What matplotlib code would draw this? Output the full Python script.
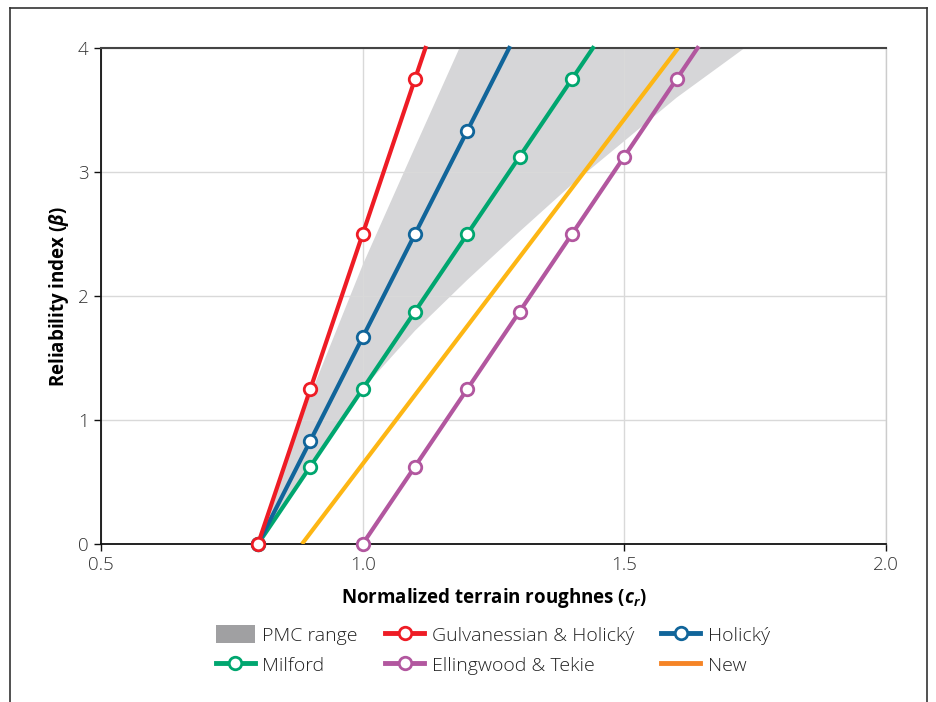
import matplotlib
matplotlib.use("Agg")
import matplotlib.pyplot as plt
from matplotlib.lines import Line2D
from matplotlib.patches import Patch

plt.rcParams['font.family'] = ['Open Sans', 'DejaVu Sans']
plt.rcParams['mathtext.fontset'] = 'custom'
plt.rcParams['mathtext.it'] = 'Open Sans:bold:italic'
plt.rcParams['mathtext.rm'] = 'Open Sans:bold'

# ---- data ----
pmc_upper_x = [0.8, 0.9, 1.0, 1.1, 1.185]
pmc_upper_y = [0.0, 1.2, 2.25, 3.2, 4.0]
pmc_lower_x = [0.8, 0.9, 1.0, 1.1, 1.2, 1.3, 1.4, 1.5, 1.6, 1.73]
pmc_lower_y = [0.0, 0.62, 1.25, 1.72, 2.13, 2.52, 2.9, 3.25, 3.6, 4.0]

gh_x = [0.8, 0.9, 1.0, 1.1, 1.12]
gh_y = [0.0, 1.25, 2.5, 3.75, 4.0]
hol_x = [0.8, 0.9, 1.0, 1.1, 1.2, 1.28]
hol_y = [0.0, 0.833, 1.667, 2.5, 3.333, 4.0]
mil_x = [0.8, 0.9, 1.0, 1.1, 1.2, 1.3, 1.4, 1.44]
mil_y = [0.0, 0.625, 1.25, 1.875, 2.5, 3.125, 3.75, 4.0]
et_x = [1.0, 1.1, 1.2, 1.3, 1.4, 1.5, 1.6, 1.64]
et_y = [0.0, 0.625, 1.25, 1.875, 2.5, 3.125, 3.75, 4.0]
new_x = [0.884, 1.603]
new_y = [0.0, 4.0]

xticks = [0.5, 1.0, 1.5, 2.0]
xticklabels = ['0.5', '1.0', '1.5', '2.0']
yticks = [0, 1, 2, 3, 4]

c_red = '#EE1C25'
c_blue = '#11659A'
c_green = '#00A66F'
c_purple = '#B2579F'
c_yellow = '#FDB614'
c_orange = '#F58426'
c_gray = '#D6D6D8'

fig = plt.figure(figsize=(9.36, 7.02), dpi=100)
ax = fig.add_axes([101/936, 1-544/702, (886-101)/936, (544-48)/702])

# shaded range
poly_x = pmc_upper_x + pmc_lower_x[::-1]
poly_y = pmc_upper_y + pmc_lower_y[::-1]
ax.fill(poly_x, poly_y, color=c_gray, lw=0, zorder=0.3)

lw = 3.0
mk = dict(marker='o', markersize=9, markerfacecolor='white', markeredgewidth=2.0)
ax.plot(new_x, new_y, color=c_yellow, lw=lw, solid_capstyle='butt', zorder=3)
ax.plot(et_x, et_y, color=c_purple, lw=lw, markeredgecolor=c_purple,
        markevery=list(range(len(et_x) - 1)), clip_on=False, zorder=4, **mk)
ax.plot(mil_x, mil_y, color=c_green, lw=lw, markeredgecolor=c_green,
        markevery=list(range(len(mil_x) - 1)), clip_on=False, zorder=4, **mk)
ax.plot(hol_x, hol_y, color=c_blue, lw=lw, markeredgecolor=c_blue,
        markevery=list(range(len(hol_x) - 1)), clip_on=False, zorder=5, **mk)
ax.plot(gh_x, gh_y, color=c_red, lw=lw, markeredgecolor=c_red,
        markevery=list(range(len(gh_x) - 1)), clip_on=False, zorder=6, **mk)

ax.set_xlim(0.5, 2.0)
ax.set_ylim(0, 4)
ax.set_xticks(xticks)
ax.set_xticklabels(xticklabels)
ax.set_yticks(yticks)
ax.grid(True, color='#D9D9D9', lw=1.0, zorder=0.5)
ax.set_axisbelow(True)

for s in ['left', 'bottom']:
    ax.spines[s].set_color('#111111')
    ax.spines[s].set_linewidth(1.3)
ax.spines['top'].set_color('#444444')
ax.spines['top'].set_linewidth(1.5)
ax.spines['right'].set_color('#CCCCCC')
ax.spines['right'].set_linewidth(1.0)
ax.tick_params(direction='out', length=5, width=1.0, color='#111111',
               labelsize=13.5, labelcolor='#333333', pad=4)
for lab in ax.get_xticklabels() + ax.get_yticklabels():
    lab.set_fontweight('light')

ax.set_xlabel(r'Normalized terrain roughnes ($c_r$)', fontsize=13.5,
              fontweight='bold', labelpad=8)
ax.set_ylabel(r'Reliability index ($\beta$)', fontsize=13.5,
              fontweight='bold', labelpad=5)

# legend (column-major fill for ncol=3)
def mh(col):
    return Line2D([], [], color=col, lw=3.5, marker='o', markersize=9,
                  markerfacecolor='white', markeredgecolor=col, markeredgewidth=2.0)

h_pmc = Patch(facecolor='#A0A0A2', edgecolor='none')
handles = [h_pmc, mh(c_green), mh(c_red), mh(c_purple), mh(c_blue),
           Line2D([], [], color=c_orange, lw=3.5)]
labels = ['PMC range', 'Milford', 'Gulvanessian & Holický', 'Ellingwood & Tekie',
          'Holický', 'New']
leg = fig.legend(handles, labels, ncol=3, loc='center', bbox_to_anchor=(493/936, 1-650/702),
                 frameon=False, fontsize=14, handlelength=2.0, handleheight=1.0,
                 columnspacing=1.4, labelspacing=0.55, handletextpad=0.4)
for t in leg.get_texts():
    t.set_fontweight('light')
    t.set_color('#222222')

# outer frame
fig.add_artist(Line2D([10/936, 10/936], [0, 1-8/702], transform=fig.transFigure, color='#333333', lw=1.2))
fig.add_artist(Line2D([927/936, 927/936], [0, 1-8/702], transform=fig.transFigure, color='#333333', lw=1.2))
fig.add_artist(Line2D([10/936, 927/936], [1-8/702, 1-8/702], transform=fig.transFigure, color='#333333', lw=1.2))

fig.savefig('out.png', dpi=100)
